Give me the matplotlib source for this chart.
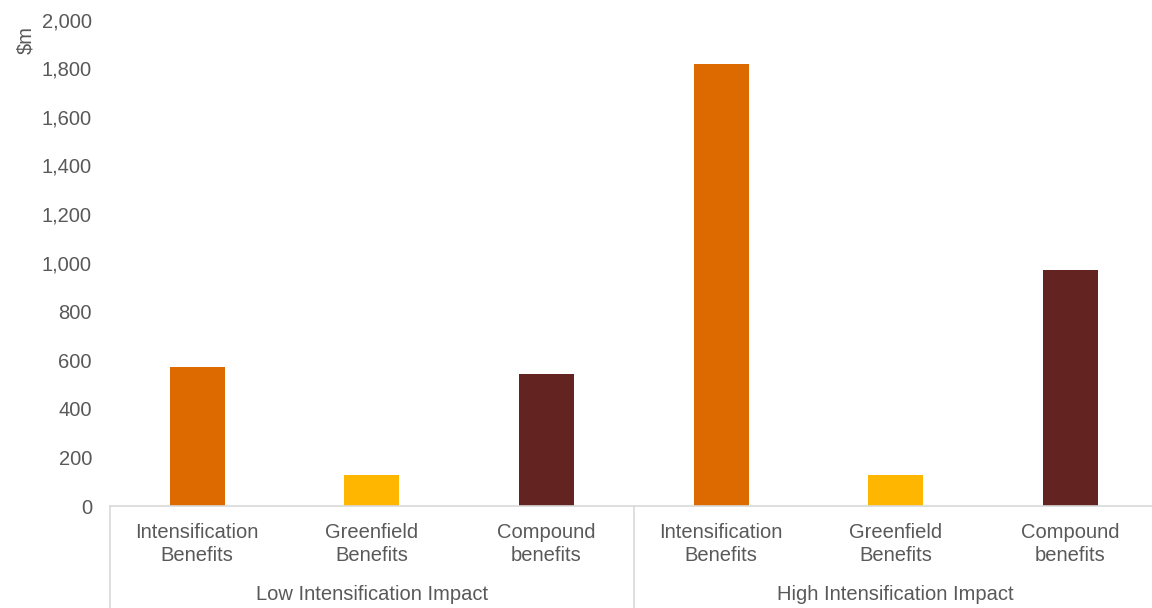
import numpy as np
import matplotlib.pyplot as plt
from matplotlib.transforms import blended_transform_factory
from matplotlib.lines import Line2D
from matplotlib.ticker import FuncFormatter

plt.rcParams['font.family'] = ['Liberation Sans', 'DejaVu Sans']

# data ($m)
groups = ["Low Intensification Impact", "High Intensification Impact"]
categories = ["Intensification\nBenefits", "Greenfield\nBenefits", "Compound\nbenefits"]
low_values = [572, 127, 543]
high_values = [1818, 126, 972]
bar_colors = ["#DD6A00", "#FFB600", "#622321"]

text_color = "#595959"
line_color = "#D9D9D9"

fig = plt.figure(figsize=(11.52, 6.08), dpi=100)
W, H = 1152, 608
# axes from x=110 to a bit past the right edge, y=0 at 506px, y=2000 at 19.5px
ax = fig.add_axes([110 / W, (H - 506) / H, 1047.5 / W, 486.5 / H])

values = low_values + high_values
colors = bar_colors * len(groups)
labels = categories * len(groups)
x = np.arange(len(values))
ax.bar(x, values, width=0.315, color=colors, edgecolor="none", zorder=2)

ax.set_xlim(-0.5, len(values) - 0.5)
ax.set_ylim(0, 2000)
ax.set_yticks(np.arange(0, 2001, 200))
ax.yaxis.set_major_formatter(FuncFormatter(lambda v, p: f"{v:,.0f}"))
ax.tick_params(axis="y", length=0, pad=13, labelsize=14.5, labelcolor=text_color)

ax.set_xticks(x)
ax.set_xticklabels(labels, linespacing=1.28)
ax.tick_params(axis="x", length=0, pad=12, labelsize=14.5, labelcolor=text_color)

for side in ["top", "right", "left"]:
    ax.spines[side].set_visible(False)
ax.spines["bottom"].set_color(line_color)
ax.spines["bottom"].set_linewidth(1.2)

# group labels and separators under the axis
trans = blended_transform_factory(ax.transData, ax.transAxes)
ax_h = 486.5
bottom = -102 / ax_h
n = len(categories)
for gi, g in enumerate(groups):
    center = gi * n + (n - 1) / 2
    ax.text(center, -88 / ax_h, g, transform=trans, ha="center", va="center",
            fontsize=14.5, color=text_color)
for edge in range(len(groups) + 1):
    xe = edge * n - 0.5
    ax.add_line(Line2D([xe, xe], [0, bottom], transform=trans, color=line_color,
                       linewidth=1.2, clip_on=False))

fig.text(26 / W, 1 - 40 / H, "$m", rotation=90, ha="center", va="center",
         fontsize=14.5, color=text_color)

fig.savefig("out.png", dpi=100)
